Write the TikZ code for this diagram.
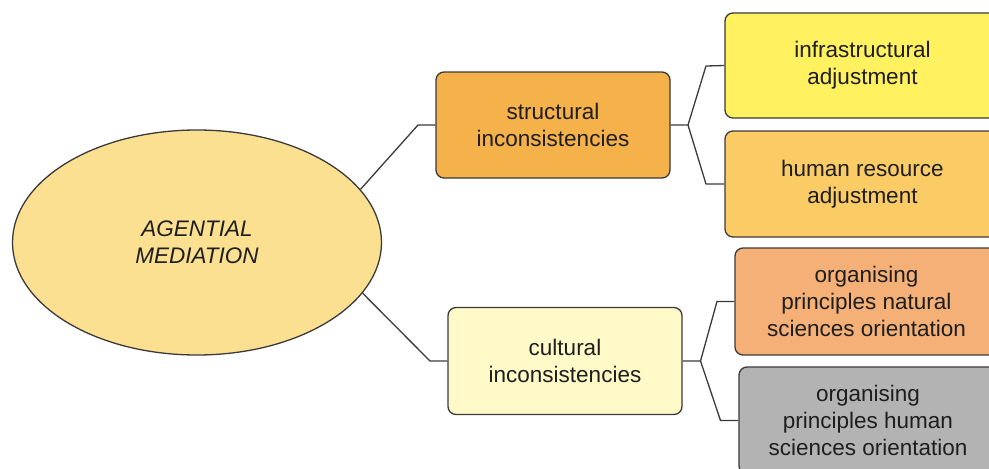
\documentclass[tikz,border=0pt]{standalone}
\usepackage{fontspec}
\setmainfont{Liberation Sans}
\usetikzlibrary{shapes.geometric}

\definecolor{ellfill}{HTML}{FCE092}
\definecolor{structfill}{HTML}{F5B14A}
\definecolor{cultfill}{HTML}{FFFAC8}
\definecolor{infrafill}{HTML}{FFF15F}
\definecolor{humanfill}{HTML}{FBCC66}
\definecolor{natfill}{HTML}{F5B077}
\definecolor{greyfill}{HTML}{B3B3B3}
\definecolor{edgecol}{HTML}{3A3A3A}
\definecolor{inkcol}{HTML}{1E1E1E}

\tikzset{
  every node/.style={font=\fontsize{22.5}{27}\selectfont, text=inkcol},
  topic/.style={draw=edgecol, line width=1.3pt, rounded corners=8pt, align=center,
                inner sep=0pt, minimum height=106pt},
  link/.style={draw=edgecol, line width=1.3pt, line join=round}
}

\begin{document}
\begin{tikzpicture}[x=1pt, y=-1pt]
  \useasboundingbox (0,0) rectangle (989,469);

  % central idea
  \node[ellipse, draw=edgecol, line width=1.3pt, fill=ellfill,
        minimum width=369pt, minimum height=225pt, inner sep=0pt,
        align=center, font=\fontsize{22.5}{27}\selectfont\itshape]
        (core) at (197,242.5) {AGENTIAL\\MEDIATION};

  % first level
  \node[topic, fill=structfill, minimum width=234pt] (struct) at (553,125)
        {structural\\inconsistencies};
  \node[topic, fill=cultfill, minimum width=234pt, minimum height=107pt] (cult) at (565,361)
        {cultural\\inconsistencies};

  % second level
  \node[topic, fill=infrafill, minimum width=275pt, minimum height=105pt] (infra) at (862.5,65.5)
        {infrastructural\\adjustment};
  \node[topic, fill=humanfill, minimum width=275pt] (human) at (862.5,184)
        {human resource\\adjustment};
  \node[topic, fill=natfill, minimum width=263pt, minimum height=107pt] (natural) at (866.5,301.5)
        {organising\\principles natural\\sciences orientation};
  \node[topic, fill=greyfill, minimum width=258pt, minimum height=107pt] (humsci) at (868,420.5)
        {organising\\principles human\\sciences orientation};

  % elbows of the branches
  \coordinate (kS) at (418,125);
  \coordinate (kC) at (430,361);
  \coordinate (fS) at (688,125);
  \coordinate (kI) at (706,66);
  \coordinate (kH) at (706,184);
  \coordinate (fC) at (700.5,361);
  \coordinate (kN) at (717,301.5);
  \coordinate (kG) at (720.5,420.5);

  % branches
  \draw[link] (core.18.5) -- (kS) -- (struct.west);
  \draw[link] (core.-17.6) -- (kC) -- (cult.west);
  \draw[link] (struct.east) -- (fS) -- (kI) -- (infra.west);
  \draw[link] (fS) -- (kH) -- (human.west);
  \draw[link] (cult.east) -- (fC) -- (kN) -- (natural.west);
  \draw[link] (fC) -- (kG) -- (humsci.west);
\end{tikzpicture}
\end{document}
